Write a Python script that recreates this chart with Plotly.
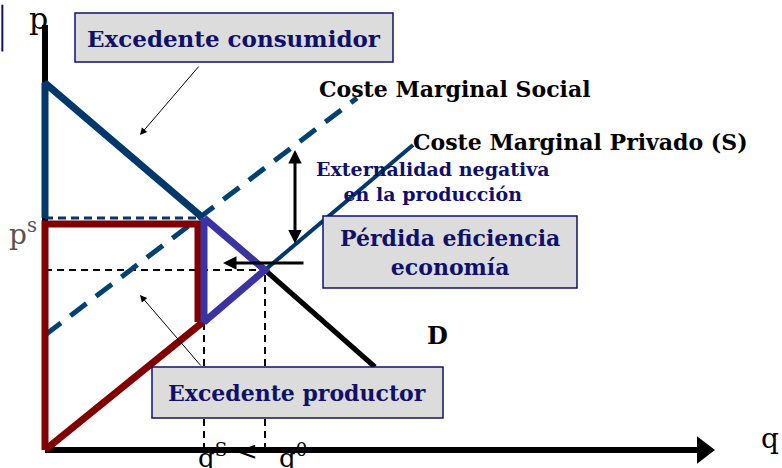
import plotly.graph_objects as go

# model units: q to the right, p upward (origin at the axes corner)
demand_q = [0, 158, 220, 330]
demand_p = [367, 232, 180, 83]

supply_q = [0, 158, 220, 368]          # coste marginal privado (S)
supply_p = [0, 128, 180, 305]

social_q = [0, 312]                    # coste marginal social
social_p = [115, 352]

q_s, p_s = 158, 232
q_0, p_0 = 220, 180

navy = "#10106b"
blue = "#00386b"
red = "#800000"
purple = "#3b34a0"
serif = "DejaVu Serif"

fig = go.Figure()

def line(x, y, color, width, dash="solid"):
    fig.add_trace(go.Scatter(x=x, y=y, mode="lines", line=dict(color=color, width=width, dash=dash),
                             showlegend=False, hoverinfo="skip"))

# axes
line([0, 0], [0, 425], "black", 6)
line([0, 655], [0, 0], "black", 6)
fig.add_trace(go.Scatter(x=[658], y=[0], mode="markers", showlegend=False, hoverinfo="skip",
                         marker=dict(symbol="triangle-right", size=24, color="black")))

# guide dashes
line([0, q_0], [p_0, p_0], "black", 2, "7px,5px")
line([q_0, q_0], [0, p_0], "black", 2, "7px,5px")
line([q_s + 1, q_s + 1], [0, supply_p[1]], "black", 2, "7px,5px")

# social marginal cost (dashed)
line(social_q, social_p, "#00416f", 5, "20px,12px")

# private marginal cost beyond the equilibrium
line(supply_q[2:], supply_p[2:], blue, 4)

# demand beyond the equilibrium
line(demand_q[2:], demand_p[2:], "black", 5)

# consumer surplus (blue)
line([0, 0, demand_q[1]], [p_s, demand_p[0], demand_p[1]], blue, 7)
line([0, q_s], [p_s, p_s], blue, 3, "8px,5px")

# producer surplus (red)
line([0, 0, q_s - 5, q_s - 5], [0, p_s - 6, p_s - 6, supply_p[1]], red, 7)
line(supply_q[:2], supply_p[:2], red, 7)

# deadweight loss triangle (purple)
line([q_s + 1, q_0, q_s + 1, q_s + 1], [demand_p[1], p_0, supply_p[1], demand_p[1]], purple, 7)

# arrows
arrows = [
    dict(x=250, y=300, ax=250, ay=205, arrowside="end+start", arrowwidth=3, arrowsize=0.9),
    dict(x=178, y=187, ax=260, ay=187, arrowside="end", arrowwidth=3, arrowsize=0.9),
    dict(x=95, y=315, ax=155, ay=385, arrowside="end", arrowwidth=1, arrowsize=1.4),
    dict(x=95, y=155, ax=157, ay=83, arrowside="end", arrowwidth=1, arrowsize=1.4),
]
for a in arrows:
    fig.add_annotation(xref="x", yref="y", axref="x", ayref="y", showarrow=True, text="",
                       arrowhead=2, arrowcolor="black", **a)

# boxes
boxes = [
    (30, 348, 388, 437, "<b>Excedente consumidor</b>", 189, 412, 23),
    (278, 532, 162, 234, "<b>Pérdida eficiencia<br>economía</b>", 405, 198, 22),
    (107, 398, 32, 83, "<b>Excedente productor</b>", 252, 57, 22),
]
for x0, x1, y0, y1, txt, tx, ty, sz in boxes:
    fig.add_shape(type="rect", x0=x0, x1=x1, y0=y0, y1=y1, xref="x", yref="y",
                  fillcolor="#dcdcdc", line=dict(color=navy, width=1.5))
    fig.add_annotation(x=tx, y=ty, text=txt, showarrow=False,
                       font=dict(family=serif, size=sz, color=navy))

# left edge fragment
fig.add_shape(type="line", xref="paper", yref="paper", x0=0.003, x1=0.003, y0=0.89, y1=0.99,
              line=dict(color=navy, width=2))

labels = [
    (-7, 432, "p", 30, "black", False),
    (-22, 218, "p<sup>s</sup>", 28, "#555555", False),
    (725, 12, "q", 28, "black", False),
    (167, -6, "q<sup>S</sup>", 26, "black", False),
    (202, -1, "<", 26, "black", False),
    (248, -6, "q<sup>0</sup>", 26, "black", False),
    (392, 115, "D", 24, "black", True),
    (410, 361, "Coste Marginal Social", 22, "black", True),
    (535, 308, "Coste Marginal Privado (S)", 22, "black", True),
    (388, 269, "Externalidad negativa<br>en la producción", 19, navy, True),
]
for x, y, txt, sz, col, bold in labels:
    fig.add_annotation(x=x, y=y, text=f"<b>{txt}</b>" if bold else txt, showarrow=False,
                       font=dict(family=serif, size=sz, color=col))

fig.update_layout(
    width=782, height=468,
    margin=dict(l=0, r=0, t=0, b=0),
    plot_bgcolor="white", paper_bgcolor="white",
    xaxis=dict(range=[-45, 737], visible=False, fixedrange=True),
    yaxis=dict(range=[-18, 450], visible=False, fixedrange=True),
)
fig.update_traces(cliponaxis=False)

fig.write_html("out.html", config={"displayModeBar": False},
               post_script="document.body.style.margin='0';")
